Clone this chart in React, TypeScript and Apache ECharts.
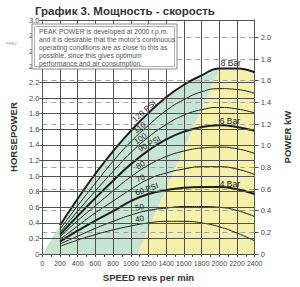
import React, { useEffect, useRef } from "react";
import * as echarts from "echarts";

// Speed (rpm) sample points for the pressure curves
const rpm = [200, 400, 600, 800, 1000, 1200, 1400, 1600, 1800, 2000, 2200, 2400];

// Horsepower per supply pressure (PSI)
const psi120 = [0.37, 0.71, 1.03, 1.32, 1.58, 1.81, 2.01, 2.17, 2.29, 2.38, 2.38, 2.33];
const psi110 = [0.32, 0.62, 0.91, 1.19, 1.44, 1.65, 1.84, 1.98, 2.08, 2.12, 2.11, 2.06];
const psi100 = [0.28, 0.55, 0.81, 1.06, 1.3, 1.5, 1.66, 1.78, 1.85, 1.88, 1.86, 1.81];
const psi90 = [0.25, 0.49, 0.72, 0.94, 1.15, 1.33, 1.47, 1.57, 1.63, 1.65, 1.63, 1.58];
const psi80 = [0.22, 0.43, 0.62, 0.81, 0.99, 1.14, 1.25, 1.32, 1.36, 1.37, 1.35, 1.29];
const psi70 = [0.19, 0.36, 0.53, 0.68, 0.83, 0.96, 1.04, 1.09, 1.12, 1.12, 1.09, 1.02];
const psi60 = [0.16, 0.3, 0.43, 0.55, 0.68, 0.77, 0.82, 0.85, 0.86, 0.86, 0.83, 0.77];
const psi50 = [0.13, 0.23, 0.33, 0.42, 0.5, 0.56, 0.59, 0.61, 0.61, 0.6, 0.56, 0.48];
const psi40 = [0.1, 0.18, 0.25, 0.31, 0.36, 0.4, 0.42, 0.42, 0.4, 0.35, 0.27, 0.17];

// Region boundaries (rpm, HP)
const greenStart = [[0, 0], [200, 0.37]];
const yellowEdge = [[1070, 0], [2000, 2.38]];

// Solid horizontal grid lines (HP)
const hpGrid = [0.2, 0.4, 0.6, 0.8, 1.0, 1.2, 1.4, 1.6, 1.8, 2.0, 2.2, 3.0];

// Curve labels: text, rpm, HP, rotation (deg)
const psiLabels = ["120 PSI", "110", "100", "90 PSI", "80", "70", "60 PSI", "50", "40"];
const psiLabelRpm = [1150, 1100, 1110, 1210, 1110, 1110, 1180, 1100, 1100];
const psiLabelHp = [1.83, 1.62, 1.48, 1.41, 1.14, 0.97, 0.83, 0.6, 0.45];
const psiLabelRot = [41, 37, 34, 29, 28, 24, 19, 14, 10];

const barLabels = ["8 Bar", "6 Bar", "4 Bar"];
const barLabelRpm = [2130, 2120, 2120];
const barLabelHp = [2.45, 1.7, 0.9];

const noteLines = [
  "PEAK POWER is developed at 2000 r.p.m.",
  "and it is desirable that the motor's continuous",
  "operating conditions are as close to this as",
  "possible, since this gives optimum",
  "performance and air consumption.",
];

const FONT = "'Liberation Sans', Arial, sans-serif";
const GREEN = "#c6e5d5";
const YELLOW = "#f5f1ab";
const GRID = "#505050";
const AX = "#555";

export default function App() {
  const ref = useRef<HTMLDivElement>(null);
  useEffect(() => {
    document.body.style.margin = "0";
    const chart = echarts.init(ref.current!, null, { renderer: "svg" });
    const pair = (ys: number[]) => rpm.map((x, i) => [x, ys[i]]);
    const curves = [
      { d: psi120, thick: true },
      { d: psi110, thick: false },
      { d: psi100, thick: false },
      { d: psi90, thick: true },
      { d: psi80, thick: false },
      { d: psi70, thick: false },
      { d: psi60, thick: true },
      { d: psi50, thick: false },
      { d: psi40, thick: false },
    ];
    const fill = (data: number[][], color: string, smooth: boolean) => ({
      type: "line",
      data,
      smooth,
      symbol: "none",
      silent: true,
      lineStyle: { width: 0 },
      areaStyle: { color, opacity: 1 },
      z: 1,
    });
    const series: any[] = [
      fill(greenStart, GREEN, false),
      fill(pair(psi120), GREEN, true),
      fill(yellowEdge, YELLOW, false),
      fill(pair(psi120).filter((p) => p[0] >= 2000), YELLOW, true),
      {
        type: "line",
        data: [],
        z: 3,
        markLine: {
          silent: true,
          symbol: ["none", "none"],
          label: { show: false },
          lineStyle: { color: GRID, type: "solid", width: 1 },
          data: hpGrid.map((v) => ({ yAxis: v })),
        },
      },
      ...curves.map((c) => ({
        type: "line",
        data: pair(c.d),
        smooth: true,
        symbol: "none",
        silent: true,
        lineStyle: { color: "#1e1e1e", width: c.thick ? 2 : 1 },
        z: 4,
      })),
    ];
    const fmt = (v: number) => (v === 0 ? "0" : v.toFixed(1));
    chart.setOption({
      animation: false,
      backgroundColor: "#fff",
      textStyle: { fontFamily: FONT },
      title: {
        text: "График 3. Мощность - скорость",
        left: 30,
        top: 0,
        textStyle: { fontSize: 11.5, fontWeight: "bold", color: "#333", fontFamily: FONT },
      },
      grid: { left: 30, right: 30, top: 20, bottom: 27, containLabel: false },
      xAxis: {
        type: "value",
        min: 0,
        max: 2400,
        interval: 200,
        z: 3,
        axisLine: { lineStyle: { color: AX, width: 1 } },
        axisTick: { length: 3, lineStyle: { color: AX } },
        minorTick: { show: true, splitNumber: 2, length: 3, lineStyle: { color: AX } },
        axisLabel: {
          fontSize: 7,
          color: "#444",
          margin: 6,
          hideOverlap: false,
          showMaxLabel: true,
          formatter: (v: number) => String(v),
        },
        splitLine: { show: true, lineStyle: { color: GRID, width: 1 } },
        name: "SPEED revs per min",
        nameLocation: "middle",
        nameGap: 16,
        nameTextStyle: { fontSize: 9.5, fontWeight: "bold", color: "#333", fontFamily: FONT },
      },
      yAxis: [
        {
          type: "value",
          min: 0,
          max: 3,
          interval: 0.2,
          position: "left",
          z: 3,
          axisLine: { show: true, lineStyle: { color: AX, width: 1 } },
          axisTick: { show: true, length: 3, lineStyle: { color: AX } },
          axisLabel: { fontSize: 7.5, color: "#444", margin: 3, formatter: fmt },
          splitLine: { show: false },
          name: "HORSEPOWER",
          nameLocation: "middle",
          nameRotate: 90,
          nameGap: 17,
          nameTextStyle: { fontSize: 9.5, fontWeight: "bold", color: "#333", fontFamily: FONT },
        },
        {
          type: "value",
          min: 0,
          max: 2.16,
          interval: 0.2,
          position: "right",
          z: 3,
          axisLine: { show: true, lineStyle: { color: AX, width: 1 } },
          axisTick: { show: true, length: 4, lineStyle: { color: AX } },
          axisLabel: {
            fontSize: 7.5,
            color: "#444",
            margin: 6,
            showMaxLabel: false,
            formatter: (v: number) =>
              Math.abs(v / 0.2 - Math.round(v / 0.2)) < 1e-6 ? fmt(v) : "",
          },
          splitLine: { show: true, lineStyle: { color: "#a2a2a2", width: 1.2, type: [5, 4] } },
          name: "POWER kW",
          nameLocation: "middle",
          nameRotate: 90,
          nameGap: 16,
          nameTextStyle: { fontSize: 9.5, fontWeight: "bold", color: "#333", fontFamily: FONT },
        },
      ],
      series,
    });

    const toPx = (x: number, y: number) =>
      chart.convertToPixel({ xAxisIndex: 0, yAxisIndex: 0 } as any, [x, y]) as number[];

    const graphic: any[] = [
      {
        type: "rect",
        shape: { x: 32, y: 24, width: 145, height: 45 },
        style: { fill: "#fff", stroke: "#8a8a8a", lineWidth: 1 },
        z: 10,
      },
      {
        type: "rect",
        shape: { x: 34.5, y: 26.5, width: 140, height: 40 },
        style: { fill: "#fff", stroke: "#b0b0b0", lineWidth: 1 },
        z: 10,
      },
      {
        type: "text",
        x: 39,
        y: 27,
        z: 11,
        style: {
          text: noteLines.join("\n"),
          fontSize: 6.8,
          lineHeight: 8.1,
          fill: "#555",
          fontFamily: FONT,
        },
      },
      {
        type: "text",
        x: 6,
        y: 41,
        z: 11,
        style: { text: "PREV", fontSize: 4, fill: "#999", fontFamily: FONT },
      },
    ];
    psiLabels.forEach((t, i) => {
      const p = toPx(psiLabelRpm[i], psiLabelHp[i]);
      graphic.push({
        type: "text",
        x: p[0],
        y: p[1],
        rotation: (psiLabelRot[i] * Math.PI) / 180,
        z: 11,
        style: {
          text: t,
          fontSize: 8,
          fill: "#222",
          align: "center",
          verticalAlign: "middle",
          fontFamily: FONT,
        },
      });
    });
    barLabels.forEach((t, i) => {
      const p = toPx(barLabelRpm[i], barLabelHp[i]);
      graphic.push({
        type: "text",
        x: p[0],
        y: p[1],
        z: 11,
        style: {
          text: t,
          fontSize: 8.5,
          fill: "#222",
          align: "center",
          verticalAlign: "middle",
          fontFamily: FONT,
        },
      });
    });
    chart.setOption({ graphic });

    return () => chart.dispose();
  }, []);
  return <div ref={ref} style={{ width: 300, height: 287 }} />;
}
